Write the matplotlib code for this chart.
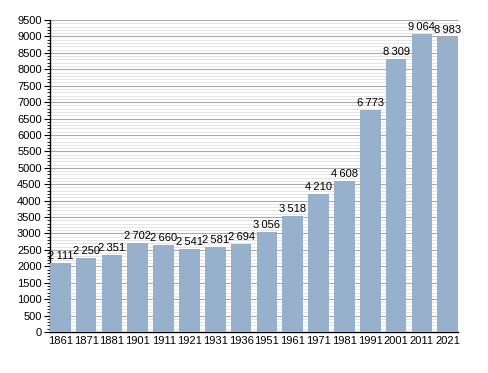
import matplotlib
matplotlib.use("Agg")
import matplotlib.pyplot as plt
from matplotlib.ticker import MultipleLocator

years = ["1861", "1871", "1881", "1901", "1911", "1921", "1931", "1936",
         "1951", "1961", "1971", "1981", "1991", "2001", "2011", "2021"]
population = [2111, 2250, 2351, 2702, 2660, 2541, 2581, 2694,
              3056, 3518, 4210, 4608, 6773, 8309, 9064, 8983]

plt.rcParams['font.family'] = ['Liberation Sans', 'DejaVu Sans']

fig = plt.figure(figsize=(4.88, 3.73), dpi=100)
ax = fig.add_axes([50 / 488, 41 / 373, 408 / 488, 312 / 373])

x = list(range(len(years)))
ax.bar(x, population, width=0.8, color="#97b0cc", zorder=3)

# labels above bars, thin space as thousands separator
for xi, v in zip(x, population):
    txt = f"{v:,}".replace(",", "\u2009")
    ax.text(xi, v + 60, txt, ha="center", va="bottom", fontsize=8, zorder=4)

ax.set_xlim(-0.4, len(years) - 0.6)
ax.set_ylim(0, 9500)
ax.set_xticks(x)
ax.set_xticklabels(years, fontsize=8)
ax.yaxis.set_major_locator(MultipleLocator(500))
ax.yaxis.set_minor_locator(MultipleLocator(100))
ax.tick_params(axis="y", labelsize=8, length=4, width=0.8, pad=2)
ax.tick_params(axis="y", which="minor", length=2, width=0.6)
ax.tick_params(axis="x", length=0, pad=3)

ax.grid(axis="y", which="major", color="#aaaaaa", linewidth=0.8, zorder=0)
ax.grid(axis="y", which="minor", color="#e0e0e0", linewidth=0.6, zorder=0)

for s in ["top", "right"]:
    ax.spines[s].set_visible(False)
ax.spines["left"].set_linewidth(1.0)
ax.spines["bottom"].set_linewidth(1.0)

fig.savefig("out.png", dpi=100)
